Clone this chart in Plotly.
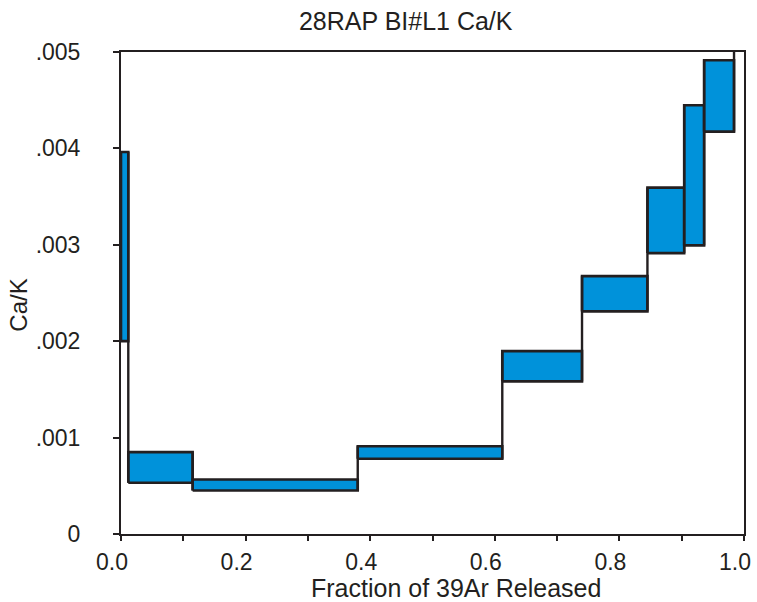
import plotly.graph_objects as go

# step boundaries (fraction of 39Ar released) and Ca/K error box limits
frac_edges = [0.0, 0.0117, 0.115, 0.380, 0.612, 0.740, 0.845, 0.904, 0.936, 0.984, 1.0]
ca_k_low = [0.002001, 0.000531, 0.000451, 0.000780, 0.001583, 0.002309, 0.002914, 0.002994, 0.004174, 0.00520]
ca_k_high = [0.003962, 0.000849, 0.000566, 0.000911, 0.001897, 0.002675, 0.003593, 0.004447, 0.004914, 0.00580]

x_tick_vals = [0.0, 0.1, 0.2, 0.3, 0.4, 0.5, 0.6, 0.7, 0.8, 0.9, 1.0]
x_tick_text = ["0.0", "", "0.2", "", "0.4", "", "0.6", "", "0.8", "", "1.0"]
y_tick_vals = [0, 0.001, 0.002, 0.003, 0.004, 0.005]
y_tick_text = ["0", ".001", ".002", ".003", ".004", ".005"]

FILL = "#0092DA"
INK = "#231F20"
FONT = "Liberation Sans, Arial, sans-serif"

fig = go.Figure()

# one filled rectangle per heating step
for i in range(len(ca_k_low)):
    x0, x1 = frac_edges[i], frac_edges[i + 1]
    lo, hi = ca_k_low[i], ca_k_high[i]
    fig.add_trace(
        go.Scatter(
            x=[x0, x1, x1, x0, x0],
            y=[lo, lo, hi, hi, lo],
            mode="lines",
            fill="toself",
            fillcolor=FILL,
            line=dict(color=INK, width=2.6),
            showlegend=False,
            hoverinfo="skip",
        )
    )

# vertical connectors between neighbouring steps
cx, cy = [], []
for i in range(len(ca_k_low) - 1):
    xb = frac_edges[i + 1]
    lo = min(ca_k_low[i], ca_k_low[i + 1])
    hi = max(ca_k_high[i], ca_k_high[i + 1])
    cx += [xb, xb, None]
    cy += [lo, hi, None]
fig.add_trace(
    go.Scatter(x=cx, y=cy, mode="lines", line=dict(color=INK, width=2.4),
               showlegend=False, hoverinfo="skip")
)

fig.update_xaxes(
    range=[0, 1],
    tickvals=x_tick_vals,
    ticktext=x_tick_text,
    ticks="outside", ticklen=5, tickwidth=2, tickcolor=INK,
    showline=True, linecolor=INK, linewidth=2, mirror=True,
    showgrid=False, zeroline=False,
    ticklabelstandoff=1,
    ticklabelshift=-9,
    ticklabeloverflow="allow",
    tickfont=dict(family=FONT, size=23, color=INK),
    automargin=False,
)
fig.update_yaxes(
    range=[0, 0.005],
    tickvals=y_tick_vals,
    ticktext=y_tick_text,
    ticks="outside", ticklen=6, tickwidth=2, tickcolor=INK,
    showline=True, linecolor=INK, linewidth=2, mirror=True,
    showgrid=False, zeroline=False,
    ticklabelstandoff=28,
    tickfont=dict(family=FONT, size=23, color=INK),
    automargin=False,
)

fig.add_annotation(
    text="Fraction of 39Ar Released", xref="paper", yref="paper",
    x=0.537, y=-0.112, xanchor="center", yanchor="middle", showarrow=False,
    font=dict(family=FONT, size=25, color=INK),
)
fig.add_annotation(
    text="Ca/K", xref="paper", yref="paper", textangle=-90,
    x=-0.166, y=0.475, xanchor="center", yanchor="middle", showarrow=False,
    font=dict(family=FONT, size=24, color=INK),
)

fig.update_layout(
    width=757,
    height=602,
    margin=dict(l=121, r=13, t=52, b=68),
    paper_bgcolor="white",
    plot_bgcolor="white",
    title=dict(
        text="28RAP BI#L1 Ca/K", xref="paper", yref="container",
        x=0.457, y=0.965, xanchor="center", yanchor="middle",
        font=dict(family=FONT, size=25, color=INK),
    ),
)

# drop the default page margin so the figure fills the window exactly
fig.write_html(
    "out.html",
    config={"displayModeBar": False},
    post_script="document.body.style.margin = '0px';",
)
